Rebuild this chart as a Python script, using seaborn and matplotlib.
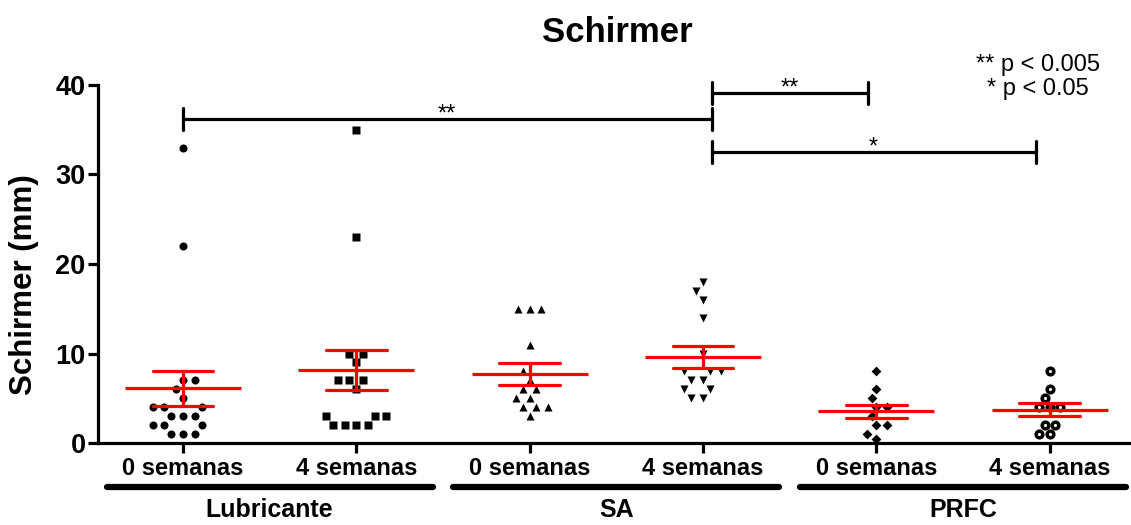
import matplotlib
matplotlib.use("Agg")
import matplotlib.pyplot as plt
import matplotlib.transforms as mtransforms
import pandas as pd
import seaborn as sns

# groups and time points
groups = ["Lubricante", "SA", "PRFC"]
times = ["0 semanas", "4 semanas"]

# Schirmer values (mm)
lub_0 = [33, 22, 7, 7, 6, 5, 4, 4, 4, 3, 3, 3, 2, 2, 2, 1, 1, 1]
lub_4 = [35, 23, 10, 10, 9, 7, 7, 7, 6, 3, 3, 3, 2, 2, 2, 2]
sa_0 = [15, 15, 15, 11, 8, 7, 6, 6, 5, 5, 4, 4, 4, 3]
sa_4 = [18, 17, 16, 14, 10, 8, 8, 8, 7, 7, 6, 6, 5, 5]
prfc_0 = [8, 6, 5, 4, 4, 3, 2, 2, 1, 0.5]
prfc_4 = [8, 6, 5, 4, 4, 4, 2, 2, 1, 1]

# significance brackets: (x start, x end, height, label)
brackets = [(0, 3.05, 36.2, "**"), (3.05, 3.95, 39.1, "**"), (3.05, 4.92, 32.5, "*")]
legend_text = "** p < 0.005\n* p < 0.05"

all_series = [lub_0, lub_4, sa_0, sa_4, prfc_0, prfc_4]
cats = [f"{g} {t}" for g in groups for t in times]
markers = ["o", "s", "^", "v", "D", "o"]

rows = []
for cat, vals in zip(cats, all_series):
    for v in vals:
        rows.append({"grupo": cat, "valor": v})
df = pd.DataFrame(rows)

sns.set_style("ticks")
plt.rcParams["font.family"] = ["Liberation Sans", "DejaVu Sans"]
plt.rcParams["text.color"] = "black"
plt.rcParams["axes.labelcolor"] = "black"
plt.rcParams["xtick.color"] = "black"
plt.rcParams["ytick.color"] = "black"
plt.rcParams["axes.edgecolor"] = "black"

W, H = 1131, 525
fig = plt.figure(figsize=(W / 100, H / 100), dpi=100)
ax = fig.add_axes([98 / W, 82 / H, 1033 / W, 358 / H])

for i, (cat, vals) in enumerate(zip(cats, all_series)):
    if i == 5:
        sns.swarmplot(x=[cat] * len(vals), y=vals, order=cats, marker="o",
                      color="white", edgecolor="black", linewidth=2.5, size=4.8, ax=ax)
    else:
        sns.swarmplot(x=[cat] * len(vals), y=vals, order=cats, marker=markers[i],
                      color="black", edgecolor=(1, 1, 1, 0), linewidth=2.2,
                      size=5.8 if markers[i] != "D" else 5.0, ax=ax)

sns.pointplot(data=df, x="grupo", y="valor", order=cats, errorbar="se", capsize=0.35,
              color="red", marker="_", markersize=84, markeredgewidth=2.3,
              linestyle="none", err_kws={"linewidth": 2.3, "zorder": 5}, zorder=5, ax=ax)

ax.set_xlim(-0.49, 5.47)
ax.set_ylim(0, 40)
ax.set_yticks([0, 10, 20, 30, 40])
ax.set_xticks(range(len(cats)))
ax.set_xticklabels(times * len(groups))
ax.set_xlabel("")
ax.set_ylabel("Schirmer (mm)", fontsize=22.5, fontweight="bold")
ax.yaxis.set_label_coords(-0.057, 0.441)
sns.despine(ax=ax)
for side in ["left", "bottom"]:
    ax.spines[side].set_linewidth(2.3)
ax.tick_params(axis="both", width=2.3, length=7, color="black")
ax.tick_params(axis="x", labelsize=17, pad=3)
ax.tick_params(axis="y", labelsize=19.5, pad=2)
for lab in ax.get_xticklabels() + ax.get_yticklabels():
    lab.set_fontweight("bold")

# group underlines and names
trans = mtransforms.blended_transform_factory(ax.transData, ax.transAxes)
for i, g in enumerate(groups):
    c = 2 * i + 0.5
    ax.plot([c - 0.94, c + 0.94], [-0.123, -0.123], transform=trans, color="black",
            lw=4.5, solid_capstyle="round", clip_on=False)
    ax.text(c, -0.187, g, transform=trans, ha="center", va="center",
            fontsize=18, fontweight="bold")

# brackets
for x0, x1, y, lab in brackets:
    ax.plot([x0, x1], [y, y], color="black", lw=2.3, clip_on=False)
    for xe in (x0, x1):
        ax.plot([xe, xe], [y - 1.2, y + 1.2], color="black", lw=2.3, clip_on=False,
                solid_capstyle="round")
    ax.text((x0 + x1) / 2, y - 0.2, lab, ha="center", va="baseline", fontsize=17)

fig.text(1038 / W, 1 - 77 / H, legend_text, ha="center", va="center",
         fontsize=17, linespacing=1.15)
fig.text(617 / W, 1 - 32 / H, "Schirmer", ha="center", va="center",
         fontsize=25, fontweight="bold")

fig.savefig("out.png", dpi=100)
plt.close(fig)
